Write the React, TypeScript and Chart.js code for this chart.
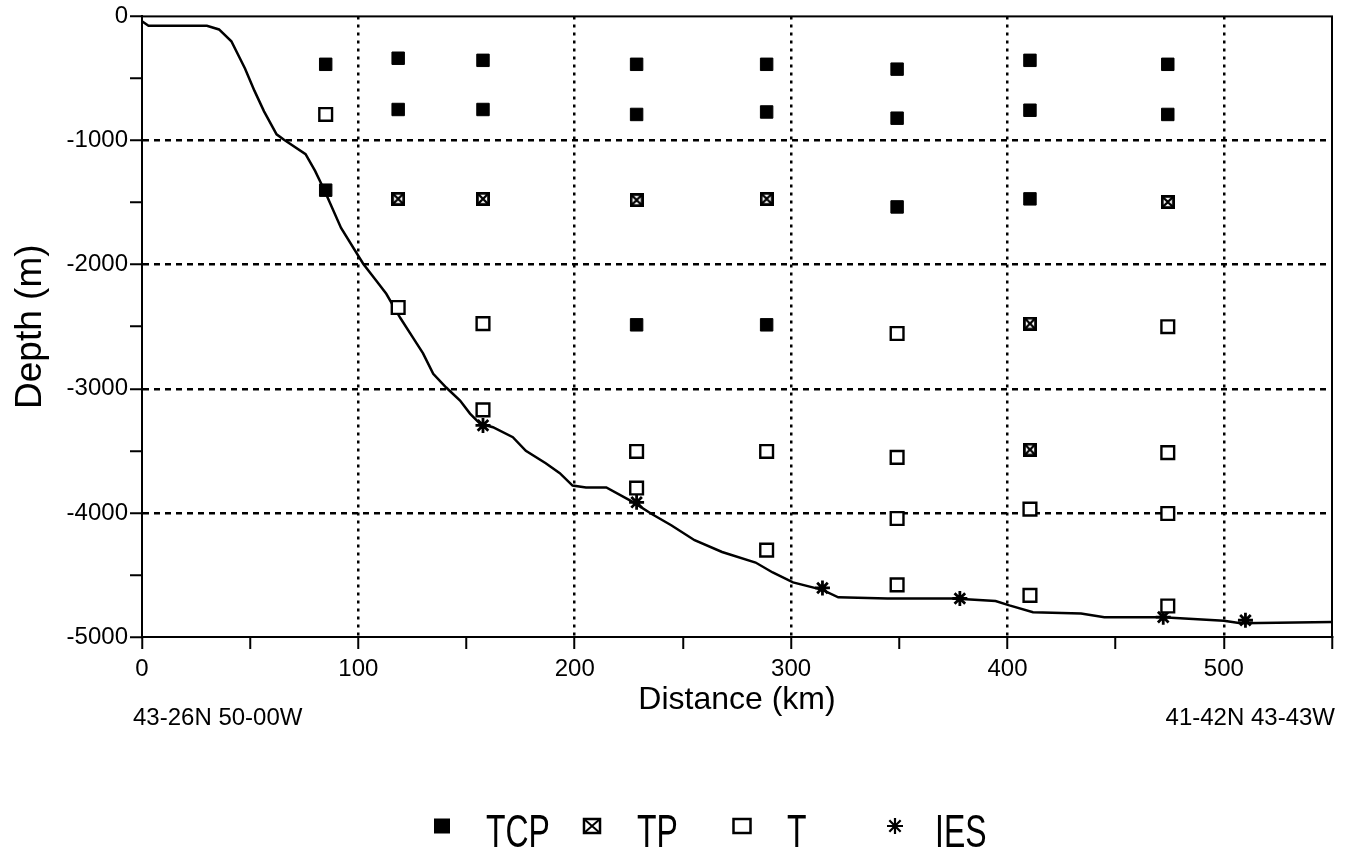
import React, { useEffect, useRef } from 'react';
import { Chart, registerables } from 'chart.js';

Chart.register(...registerables);

// Bottom topography (distance km, depth m)
const bottomDist = [0, 3, 30, 35.6, 41.3, 47.6, 52, 56.4, 62.2, 65.3, 75.6, 80, 84.4, 92, 102.3, 108.3, 112.9, 119.4, 125.3, 129.9, 134.6, 140.6, 147, 151.6, 156.2, 162.2, 171.4, 177.4, 186.6, 193.1, 199, 205.2, 214.6, 227.2, 235.2, 244.6, 255.4, 268.1, 283.6, 291.5, 300.9, 314.5, 321.8, 344.5, 375, 394.5, 400.9, 411.8, 434, 444.8, 471.7, 500, 507.8, 550];
const bottomDepth = [-40, -75, -75, -105, -200, -420, -600, -765, -950, -990, -1110, -1245, -1405, -1705, -1995, -2130, -2235, -2430, -2590, -2715, -2880, -2990, -3095, -3200, -3280, -3310, -3390, -3500, -3600, -3680, -3780, -3795, -3795, -3915, -4005, -4100, -4220, -4315, -4400, -4480, -4560, -4620, -4680, -4690, -4690, -4710, -4745, -4800, -4810, -4840, -4840, -4870, -4890, -4880];

// TCP (filled squares)
const tcpDist = [84.9, 84.9, 118.4, 118.4, 157.6, 157.6, 228.6, 228.6, 228.6, 288.7, 288.7, 288.7, 349, 349, 349, 410.4, 410.4, 410.4, 474.1, 474.1];
const tcpDepth = [-386, -1400, -337, -750, -354, -750, -386, -790, -2485, -386, -770, -2485, -425, -820, -1535, -354, -756, -1470, -386, -790];

// TP (crossed squares)
const tpDist = [118.4, 157.6, 228.6, 288.7, 410.4, 410.4, 474.1];
const tpDepth = [-1470, -1470, -1480, -1470, -2475, -3490, -1495];

// T (open squares)
const tDist = [84.9, 118.4, 157.6, 157.6, 228.6, 228.6, 288.7, 288.7, 349, 349, 349, 349, 410.4, 410.4, 474.1, 474.1, 474.1, 474.1];
const tDepth = [-790, -2345, -2475, -3170, -3505, -3800, -3505, -4300, -2555, -3553, -4045, -4580, -3970, -4665, -2500, -3515, -4005, -4750];

// IES (asterisks)
const iesDist = [157.6, 228.6, 314.5, 378, 472, 510];
const iesDepth = [-3295, -3915, -4605, -4690, -4840, -4865];

const seriesLabels = ['TCP', 'TP', 'T', 'IES'];
const xTitle = 'Distance (km)';
const yTitle = 'Depth (m)';
const startLabel = '43-26N 50-00W';
const endLabel = '41-42N 43-43W';

const FONT = '"Liberation Sans", Arial, Helvetica, sans-serif';

const zip = (xs: number[], ys: number[]) => xs.map((x, i) => ({ x, y: ys[i] }));

function makeCrossedSquare(): HTMLCanvasElement {
  const c = document.createElement('canvas');
  c.width = 14;
  c.height = 14;
  const g = c.getContext('2d')!;
  g.strokeStyle = '#000';
  g.lineWidth = 2.8;
  g.strokeRect(1.4, 1.4, 11.2, 11.2);
  g.lineWidth = 2.4;
  g.beginPath();
  g.moveTo(2, 2);
  g.lineTo(12, 12);
  g.moveTo(12, 2);
  g.lineTo(2, 12);
  g.stroke();
  return c;
}

const extrasPlugin = {
  id: 'extras',
  afterDraw(chart: any) {
    const { ctx, chartArea } = chart;
    const { left, right, top, bottom } = chartArea;
    ctx.save();
    // frame
    ctx.strokeStyle = '#000';
    ctx.lineWidth = 2;
    ctx.setLineDash([]);
    ctx.strokeRect(left, top, right - left, bottom - top);

    // end-point labels
    ctx.fillStyle = '#000';
    ctx.font = `24px ${FONT}`;
    ctx.textBaseline = 'alphabetic';
    ctx.textAlign = 'left';
    ctx.fillText(startLabel, 133, 725);
    ctx.textAlign = 'right';
    ctx.fillText(endLabel, 1335, 725);

    // legend
    const markerX = [442, 592, 742, 895];
    const textX = [486, 637, 787, 935];
    const my = 826;
    const baseline = 847;
    chart.data.datasets.slice(0, 4).forEach((ds: any, i: number) => {
      const cx = markerX[i];
      ctx.lineWidth = 2.5;
      ctx.strokeStyle = '#000';
      ctx.fillStyle = '#000';
      if (i === 0) {
        ctx.fillRect(cx - 8, my - 7.5, 16, 15);
      } else if (i === 1) {
        ctx.strokeRect(cx - 8, my - 7, 16, 14);
        ctx.lineWidth = 2;
        ctx.beginPath();
        ctx.moveTo(cx - 8, my - 7);
        ctx.lineTo(cx + 8, my + 7);
        ctx.moveTo(cx + 8, my - 7);
        ctx.lineTo(cx - 8, my + 7);
        ctx.stroke();
      } else if (i === 2) {
        ctx.strokeRect(cx - 8.5, my - 7, 17, 14);
      } else {
        ctx.lineWidth = 2.2;
        ctx.beginPath();
        const r = 8;
        for (let k = 0; k < 4; k++) {
          const a = (k * Math.PI) / 4;
          ctx.moveTo(cx - r * Math.cos(a), my - r * Math.sin(a));
          ctx.lineTo(cx + r * Math.cos(a), my + r * Math.sin(a));
        }
        ctx.stroke();
      }
      ctx.save();
      ctx.translate(textX[i], baseline);
      ctx.scale(0.68, 1);
      ctx.font = `47px ${FONT}`;
      ctx.textAlign = 'left';
      ctx.fillStyle = '#000';
      ctx.fillText(ds.label, 0, 0);
      ctx.restore();
    });
    ctx.restore();
  },
};

export default function App() {
  const ref = useRef<HTMLCanvasElement | null>(null);

  useEffect(() => {
    if (!ref.current) return;
    Chart.defaults.font.family = FONT;
    const tpImg = makeCrossedSquare();
    const chart = new Chart(ref.current, {
      type: 'scatter',
      data: {
        datasets: [
          {
            label: seriesLabels[0],
            data: zip(tcpDist, tcpDepth),
            pointStyle: 'rect',
            pointRadius: 8.8,
            backgroundColor: '#000',
            borderColor: '#000',
            borderWidth: 1,
          },
          {
            label: seriesLabels[1],
            data: zip(tpDist, tpDepth),
            pointStyle: tpImg as any,
            pointRadius: 7,
            backgroundColor: '#000',
            borderColor: '#000',
          },
          {
            label: seriesLabels[2],
            data: zip(tDist, tDepth),
            pointStyle: 'rect',
            pointRadius: 9,
            backgroundColor: '#fff',
            borderColor: '#000',
            borderWidth: 2.4,
          },
          {
            label: seriesLabels[3],
            data: zip(iesDist, iesDepth),
            pointStyle: 'star',
            pointRadius: 7.5,
            backgroundColor: '#000',
            borderColor: '#000',
            borderWidth: 2.8,
          },
          {
            label: 'Bottom',
            data: zip(bottomDist, bottomDepth),
            showLine: true,
            pointRadius: 0,
            borderColor: '#000',
            borderWidth: 2.5,
            tension: 0,
          } as any,
        ],
      },
      options: {
        animation: false,
        responsive: false,
        maintainAspectRatio: false,
        layout: { padding: { left: 0, right: 17, top: 15, bottom: 0 } },
        plugins: {
          legend: { display: false },
          tooltip: { enabled: false },
        },
        scales: {
          x: {
            type: 'linear',
            position: 'bottom',
            min: 0,
            max: 550,
            afterFit: (s: any) => {
              s.height = 216;
            },
            ticks: {
              stepSize: 50,
              autoSkip: false,
              maxRotation: 0,
              padding: 6,
              color: '#000',
              font: { size: 24, family: FONT },
              callback: (v: any) => (Number(v) % 100 === 0 ? String(v) : ''),
            },
            grid: {
              color: (c: any) =>
                c.tick && c.tick.value % 100 === 0 && c.tick.value !== 0 ? '#000' : 'rgba(0,0,0,0)',
              lineWidth: 2.5,
              tickColor: '#000',
              tickLength: 12,
              tickWidth: 2,
            },
            border: { display: true, color: '#000', width: 2, dash: [3, 5] },
            title: {
              display: true,
              text: xTitle,
              color: '#000',
              font: { size: 32, family: FONT },
              padding: { top: 0, bottom: 134 },
            },
          },
          y: {
            type: 'linear',
            min: -5000,
            max: 0,
            afterFit: (s: any) => {
              s.width = 142;
            },
            ticks: {
              stepSize: 500,
              autoSkip: false,
              padding: 2,
              color: '#000',
              font: { size: 24, family: FONT },
              callback: (v: any) => (Number(v) % 1000 === 0 ? String(v) : ''),
            },
            grid: {
              color: (c: any) =>
                c.tick && c.tick.value % 1000 === 0 && c.tick.value !== 0 && c.tick.value !== -5000
                  ? '#000'
                  : 'rgba(0,0,0,0)',
              lineWidth: 2.5,
              tickColor: '#000',
              tickLength: 12,
              tickWidth: 2,
            },
            border: { display: true, color: '#000', width: 2, dash: [6, 5] },
            title: {
              display: true,
              text: yTitle,
              color: '#000',
              font: { size: 37, family: FONT },
              padding: { top: 9, bottom: 0 },
            },
          },
        },
      } as any,
      plugins: [extrasPlugin],
    });
    return () => chart.destroy();
  }, []);

  return (
    <div style={{ position: 'fixed', left: 0, top: 0, width: 1349, height: 853, background: '#fff' }}>
      <canvas ref={ref} width={1349} height={853} style={{ display: 'block' }} />
    </div>
  );
}
